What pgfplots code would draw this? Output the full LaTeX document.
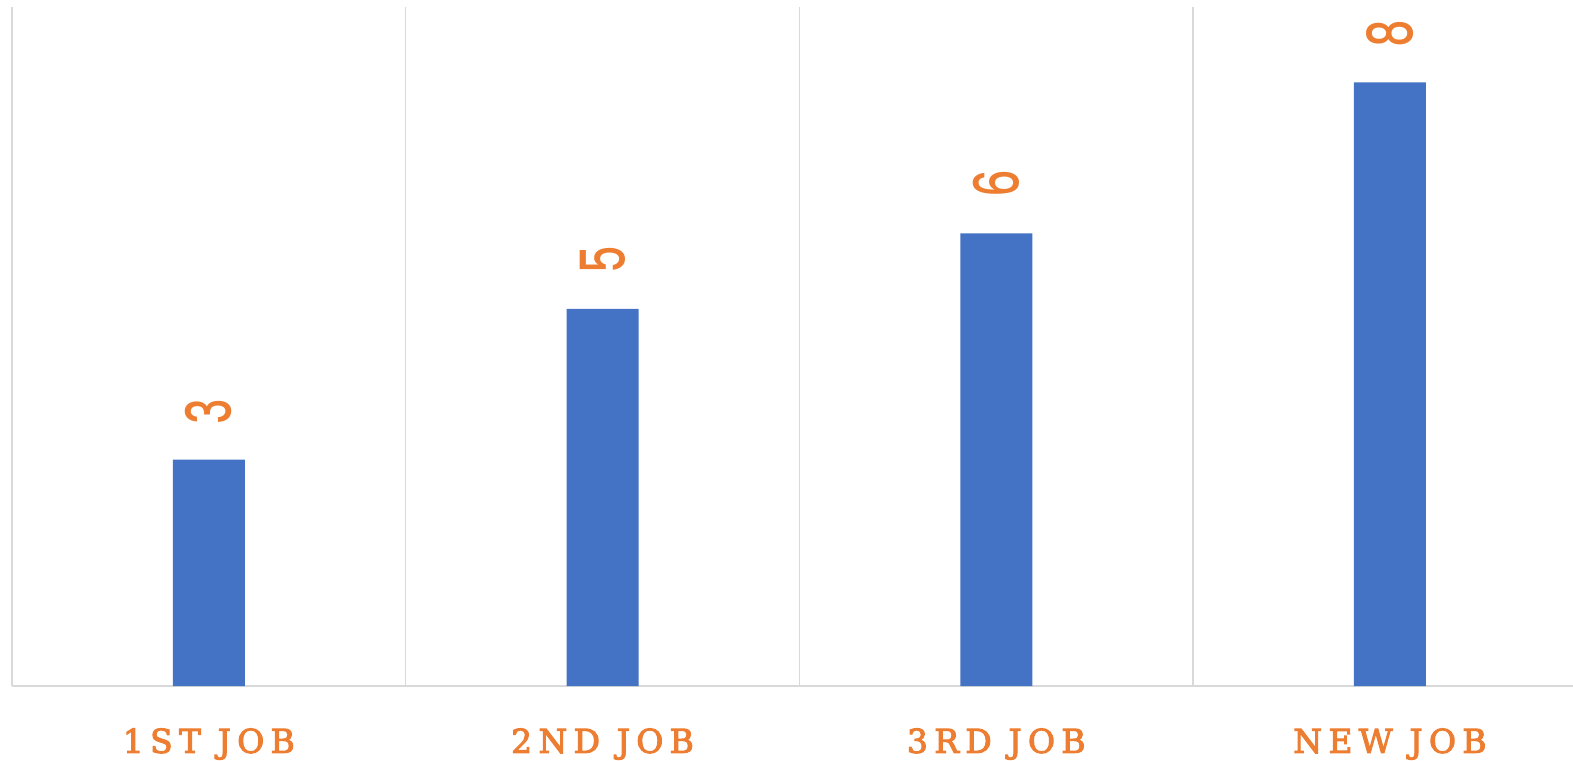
\documentclass[border=0pt]{standalone}
\usepackage{pgfplots}
\pgfplotsset{compat=1.18}
\usepackage{fontspec}
\setmainfont{DejaVu Serif}
\newfontfamily\labelfont[LetterSpace=19, FakeBold=3]{DejaVu Serif}
\newfontfamily\numfont[UprightFont=* Medium]{Poppins}
\definecolor{barblue}{HTML}{4472C4}
\definecolor{lblorange}{HTML}{ED7D31}
\definecolor{gridgray}{HTML}{D9D9D9}
\begin{document}
\begin{tikzpicture}
\begin{axis}[
    at={(0,0)}, anchor=south west,
    scale only axis,
    width=780.5pt, height=339.5pt,
    xmin=-0.5, xmax=3.465,
    ymin=0, ymax=9,
    axis x line*=bottom, axis y line*=left,
    axis line style={gridgray, line width=0.8pt},
    xtick={0,1,2,3},
    xticklabels={1ST JOB,2ND JOB,3RD JOB,NEW JOB},
    ytick=\empty,
    minor xtick={0.5,1.5,2.5},
    xminorgrids,
    minor grid style={gridgray, line width=0.8pt},
    major tick length=0pt, minor tick length=0pt,
    xticklabel style={font=\labelfont\fontsize{16.5}{18}\selectfont, text=lblorange,
        anchor=north, inner sep=0pt, yshift=-21pt},
    ybar, bar width=36pt, bar shift=0pt,
    nodes near coords={\scalebox{0.7}[1]{\pgfmathprintnumber[assume math mode=true]{\pgfplotspointmeta}}},
    every node near coord/.append style={font=\numfont\fontsize{31}{34}\selectfont,
        text=lblorange, rotate=90, anchor=west, inner sep=0pt, xshift=17.5pt},
    clip=false,
]
\addplot[fill=barblue, draw=none] coordinates {(0,3) (1,5) (2,6) (3,8)};
\end{axis}
\pgfresetboundingbox
\path[use as bounding box] (-6pt,-37pt) rectangle (780.5pt,343pt);
\end{tikzpicture}
\end{document}
